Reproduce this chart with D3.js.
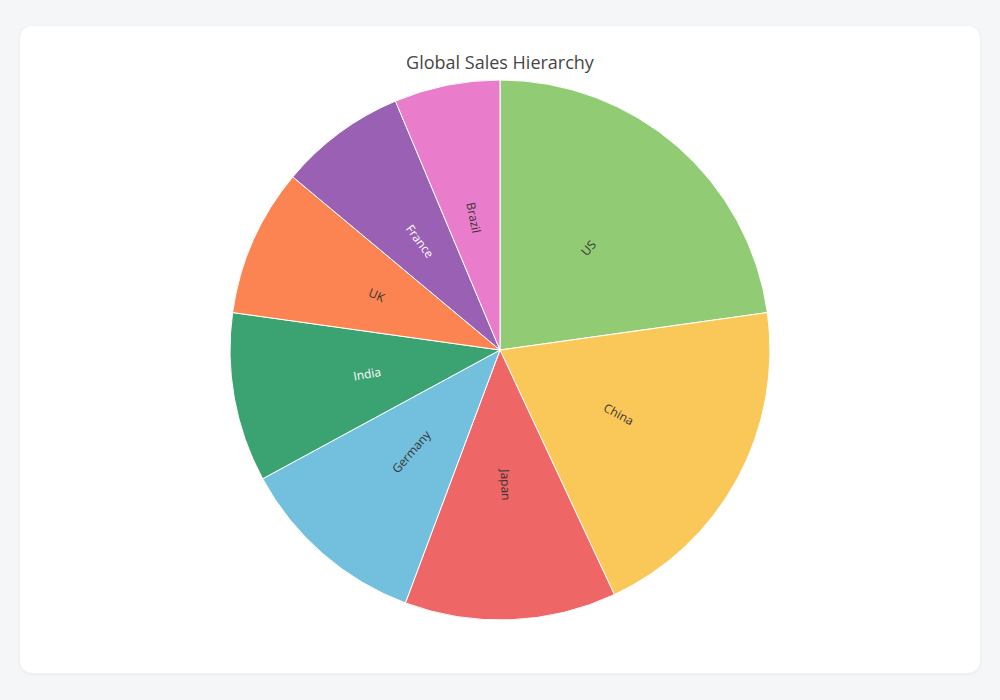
<!DOCTYPE html>
<html>
<head>
<meta charset="utf-8">
<script src="https://cdn.jsdelivr.net/npm/d3@7"></script>
<style>
html,body{margin:0;padding:0;background:#f5f6f8;}
#card{position:absolute;left:20px;top:26px;width:960px;height:647px;background:#fff;border-radius:12px;box-shadow:0 1px 4px rgba(0,0,0,0.06);}
svg{position:absolute;left:0;top:0;}
</style>
</head>
<body>
<div id="card"></div>
<svg id="chart" width="1000" height="700"></svg>
<script>
const categories = ["US","China","Japan","Germany","India","UK","France","Brazil"];
const values = [4500,4000,2500,2250,2000,1750,1500,1250];
const colors = ["#91cc75","#fac858","#ee6666","#73c0de","#3ba272","#fc8452","#9a60b4","#ea7ccc"];
const labelColors = ["#333","#333","#333","#333","#fff","#333","#fff","#333"];
const title = "Global Sales Hierarchy";

const svg = d3.select("#chart");
const cx = 500, cy = 350, r = 270;

svg.append("text").attr("x",500).attr("y",69).attr("text-anchor","middle")
  .attr("font-family","'Open Sans','Noto Sans',sans-serif").attr("font-size",18)
  .attr("fill","#464646").text(title);

const data = categories.map((c,i)=>({name:c,value:values[i],color:colors[i],lc:labelColors[i]}));
const pie = d3.pie().value(d=>d.value).sort(null);
const arcs = pie(data);
const arc = d3.arc().innerRadius(0).outerRadius(r);
const g = svg.append("g").attr("transform",`translate(${cx},${cy})`);

g.selectAll("path").data(arcs).join("path")
  .attr("d",arc).attr("fill",d=>d.data.color).attr("stroke","#fff").attr("stroke-width",1);

g.selectAll("text.lbl").data(arcs).join("text").attr("class","lbl")
  .attr("transform",d=>{
    const a = (d.startAngle+d.endAngle)/2;
    const x = Math.sin(a)*r*0.5, y = -Math.cos(a)*r*0.5;
    let deg = a*180/Math.PI - 90;
    if (a*180/Math.PI > 180) deg -= 180;
    return `translate(${x},${y}) rotate(${deg})`;
  })
  .attr("text-anchor","middle").attr("dy","0.35em")
  .attr("font-family","'Open Sans','Noto Sans',sans-serif").attr("font-size",12)
  .attr("fill",d=>d.data.lc).text(d=>d.data.name);
</script>
</body>
</html>
